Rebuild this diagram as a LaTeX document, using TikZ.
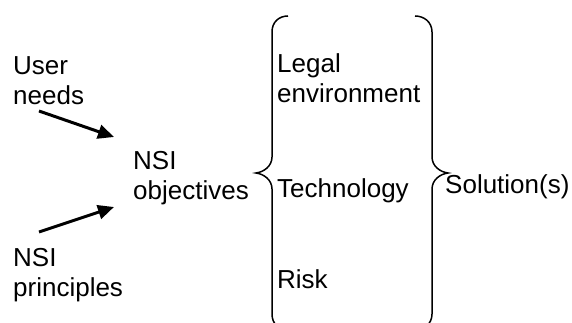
\documentclass[tikz,border=0pt]{standalone}
\usepackage{fontspec}
\setmainfont{Liberation Sans}
\usetikzlibrary{arrows.meta}
\begin{document}
\begin{tikzpicture}[x=1pt,y=-1pt,
  lbl/.style={anchor=base west,inner sep=0pt,align=left,font=\fontsize{26}{30}\selectfont},
  arr/.style={line width=3pt,-{Triangle[length=16pt,width=14pt]}},
  brc/.style={line width=1.5pt}]
\useasboundingbox (0,0) rectangle (572,323);
\clip (0,0) rectangle (572,323);
\node[lbl] (user) at (13,105) {User\\needs};
\node[lbl] (principles) at (13,296) {NSI\\principles};
\node[lbl] (objectives) at (133,199) {NSI\\objectives};
\node[lbl] (legal) at (277,103) {Legal\\environment};
\node[lbl] (technology) at (277,197) {Technology};
\node[lbl] (risk) at (277,288) {Risk};
\node[lbl] (solution) at (445,193) {Solution(s)};
\coordinate (a1s) at (39,111);
\coordinate (a1e) at (114,137);
\coordinate (a2s) at (39,232);
\coordinate (a2e) at (114,207);
\draw[arr] (a1s) -- (a1e);
\draw[arr] (a2s) -- (a2e);
% left brace
\draw[brc] (288,16) .. controls (279,16) and (272,22) .. (272,32) -- (272,157)
  .. controls (272,166) and (264,172) .. (256,173)
  .. controls (264,174) and (272,180) .. (272,189) -- (272,314)
  .. controls (272,324) and (279,330) .. (288,330);
% right brace
\draw[brc] (415,16) .. controls (424,16) and (432,22) .. (432,32) -- (432,157)
  .. controls (432,166) and (440,172) .. (448,173)
  .. controls (440,174) and (432,180) .. (432,189) -- (432,314)
  .. controls (432,324) and (424,330) .. (415,330);
\end{tikzpicture}
\end{document}
